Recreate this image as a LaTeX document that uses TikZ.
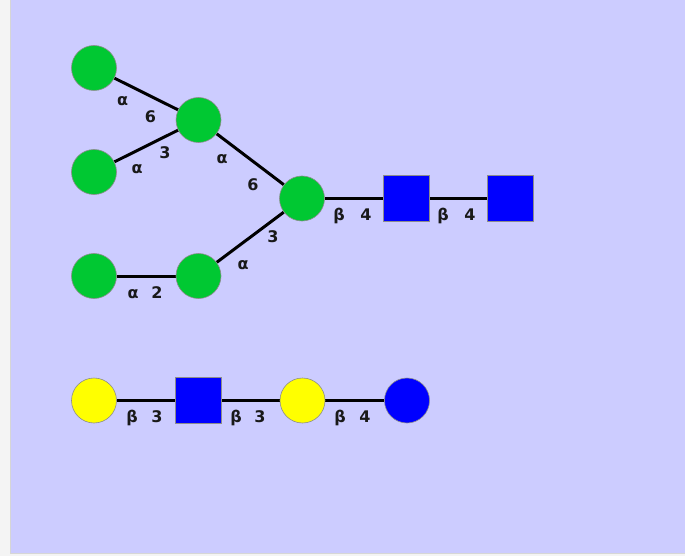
\documentclass[tikz,border=0pt]{standalone}
\usepackage{fontspec}
\setmainfont{DejaVu Sans}
\usetikzlibrary{backgrounds}
\definecolor{panel}{HTML}{CCCCFF}
\definecolor{frame}{HTML}{F4F4F4}
\definecolor{rim}{HTML}{D6D6D6}
\definecolor{glcgreen}{RGB}{0,200,50}
\definecolor{glcblue}{RGB}{0,0,255}
\definecolor{glcyellow}{RGB}{255,255,0}
\tikzset{
  sugar/.style={circle, minimum size=45pt, inner sep=0pt, draw=black!45, line width=0.6pt},
  mannose/.style={sugar, fill=glcgreen},
  galactose/.style={sugar, fill=glcyellow},
  glucose/.style={sugar, fill=glcblue},
  glcnac/.style={rectangle, minimum size=46pt, inner sep=0pt, draw=black!45, line width=0.6pt, fill=glcblue},
  bond/.style={line width=3pt, black},
  lbl/.style={inner sep=0pt, font=\bfseries\fontsize{16}{16}\selectfont, text=black!90}
}
\begin{document}
\begin{tikzpicture}[x=1pt,y=-1pt]
  \useasboundingbox (0,0) rectangle (685,556);

  % N-glycan core
  \node[mannose] (m1) at (94,68) {};
  \node[mannose] (m2) at (198.5,120) {};
  \node[mannose] (m3) at (94,172) {};
  \node[mannose] (mc) at (302,198.5) {};
  \node[mannose] (m4) at (94,276) {};
  \node[mannose] (m5) at (198.5,276) {};
  \node[glcnac] (n1) at (406,198.5) {};
  \node[glcnac] (n2) at (510.5,198.5) {};

  % lacto chain
  \node[galactose] (g1) at (94,400.5) {};
  \node[glcnac] (n3) at (198.5,400.5) {};
  \node[galactose] (g2) at (302.5,400.5) {};
  \node[glucose] (c1) at (407,400.5) {};

  \begin{scope}[on background layer]
    % canvas and frame
    \fill[frame] (0,0) rectangle (685,556);
    \fill[panel] (11,0) rectangle (685,553);
    \draw[rim, line width=1pt] (10.5,0) -- (10.5,553.5) -- (685,553.5);
    % glycosidic bonds
    \draw[bond] (m1) -- (m2);
    \draw[bond] (m3) -- (m2);
    \draw[bond] (m2) -- (mc);
    \draw[bond] (m4) -- (m5);
    \draw[bond] (m5) -- (mc);
    \draw[bond] (mc) -- (n1);
    \draw[bond] (n1) -- (n2);
    \draw[bond] (g1) -- (n3);
    \draw[bond] (n3) -- (g2);
    \draw[bond] (g2) -- (c1);
  \end{scope}

  % linkage labels
  \node[lbl] (a1) at (122.5,101) {α};
  \node[lbl] (p1) at (150.5,117) {6};
  \node[lbl] (a2) at (137,169) {α};
  \node[lbl] (p2) at (165,153) {3};
  \node[lbl] (a3) at (222,159) {α};
  \node[lbl] (p3) at (253,185) {6};
  \node[lbl] (a4) at (243,265) {α};
  \node[lbl] (p4) at (273,237) {3};
  \node[lbl] (a5) at (133,294) {α};
  \node[lbl] (p5) at (157,293) {2};
  \node[lbl] (b1) at (339,215.5) {β};
  \node[lbl] (q1) at (366,214.5) {4};
  \node[lbl] (b2) at (443,215.5) {β};
  \node[lbl] (q2) at (470,214.5) {4};
  \node[lbl] (b3) at (132,417.5) {β};
  \node[lbl] (q3) at (157,416.5) {3};
  \node[lbl] (b4) at (236,417.5) {β};
  \node[lbl] (q4) at (260,416.5) {3};
  \node[lbl] (b5) at (340,417.5) {β};
  \node[lbl] (q5) at (365,416.5) {4};
\end{tikzpicture}
\end{document}
